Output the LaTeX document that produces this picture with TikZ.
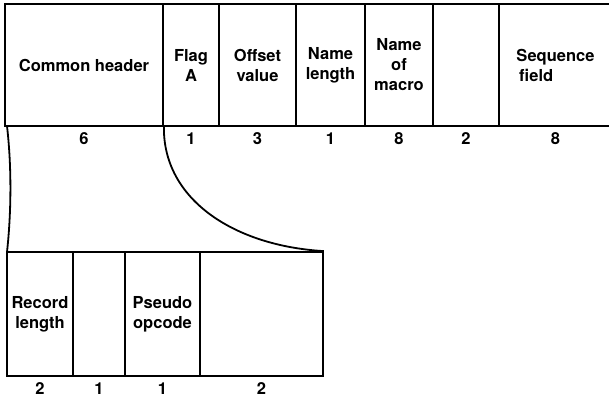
\documentclass[tikz,border=0pt]{standalone}
\usepackage{fontspec}
\setmainfont{TeX Gyre Heros}
\begin{document}
\begin{tikzpicture}[x=1pt,y=-1pt,
  txt/.style={font=\bfseries\fontsize{16.5}{20}\selectfont},
  cell/.style={txt, draw, line width=1.8pt, rectangle, inner sep=0pt, align=center},
  num/.style={txt, inner sep=0pt},
  link/.style={line width=1.8pt},
  lab/.style={label={[num, label distance=5.5pt]below:#1}}]
\useasboundingbox[fill=white] (0,0) rectangle (609,400);
% top record
\node[cell, minimum width=158pt, minimum height=122pt, lab=6] (ch) at (84,65) {Common header};
\node[cell, minimum width=56pt, minimum height=122pt, lab=1] (fa) at (191,65) {Flag\\A};
\node[cell, minimum width=77pt, minimum height=122pt, lab=3] (ov) at (257.5,65) {Offset\\value};
\node[cell, minimum width=69pt, minimum height=122pt, lab=1] (nl) at (330.5,65) {Name\\length};
\node[cell, minimum width=68pt, minimum height=122pt, lab=8] (nm) at (399,65) {Name\\of\\macro};
\node[cell, minimum width=66pt, minimum height=122pt, lab=2] (bl) at (466,65) {};
\node[cell, minimum width=113pt, minimum height=122pt, lab=8, align=left] (sf) at (555.5,65) {Sequence\\\,field};
% bottom record
\node[cell, minimum width=66pt, minimum height=124pt, lab=2] (rl) at (40,314) {Record\\length};
\node[cell, minimum width=52pt, minimum height=124pt, lab=1] (b2) at (99,314) {};
\node[cell, minimum width=75pt, minimum height=124pt, lab=1] (po) at (162.5,314) {Pseudo\\opcode};
\node[cell, minimum width=123pt, minimum height=124pt, lab=2] (b4) at (261.5,314) {};
% expansion lines
\draw[link] ([xshift=3pt]ch.south west) .. controls (12,170) and (11,215) .. ([xshift=1pt]rl.north west);
\draw[link] (ch.south east) .. controls (163,200) and (235,246) .. (b4.north east);
\end{tikzpicture}
\end{document}
